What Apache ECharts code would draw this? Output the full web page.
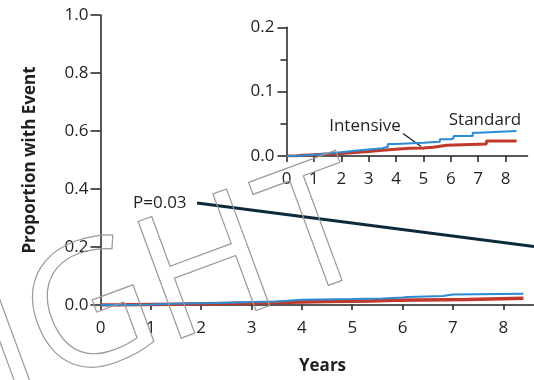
<!DOCTYPE html>
<html>
<head>
<meta charset="utf-8">
<script src="https://cdn.jsdelivr.net/npm/echarts@6/dist/echarts.min.js"></script>
<style>
  html, body { margin: 0; padding: 0; background: #fff; }
  #chart { width: 534px; height: 380px; }
</style>
</head>
<body>
<div id="chart"></div>
<script>
// Cumulative proportion with event, by treatment group (step curves)
const standardYears = [0, 0.3, 0.7, 1.0, 1.5, 2.0, 2.5, 3.0, 3.5, 3.7, 4.0, 5.0, 5.6, 6.0, 6.1, 6.8, 7.0, 8.4];
const standardRisk  = [0, 0.001, 0.002, 0.004, 0.006, 0.008, 0.010, 0.012, 0.0145, 0.0185, 0.0205, 0.0222, 0.026, 0.0275, 0.031, 0.036, 0.039, 0.039];

const intensiveYears = [0, 0.3, 0.6, 1.0, 1.5, 2.0, 2.5, 3.0, 3.5, 4.0, 4.5, 5.0, 5.35, 5.85, 7.3, 8.4];
const intensiveRisk  = [0, 0.001, 0.002, 0.003, 0.004, 0.0055, 0.007, 0.009, 0.0105, 0.012, 0.0125, 0.0135, 0.0166, 0.0187, 0.0233, 0.0233];

const yearTicks = [0, 1, 2, 3, 4, 5, 6, 7, 8];
const pValueLabel = 'P=0.03';

const INK = '#231f20';
const BLUE = '#2b8cd3';
const RED = '#c1392b';
const FONT = '"Open Sans", "Noto Sans", sans-serif';

const pairs = (xs, ys) => xs.map((x, i) => [x, ys[i]]);

function xAxisCfg(grid, max, tickLen, extra) {
  return Object.assign({
    gridIndex: grid, type: 'value', min: 0, max: max, interval: 1,
    axisLine: { onZero: false, lineStyle: { color: INK, width: 1.5 } },
    axisTick: { length: tickLen, lineStyle: { color: INK, width: 1.5 }, customValues: yearTicks },
    axisLabel: { customValues: yearTicks, color: INK, fontSize: 17, fontFamily: FONT, margin: 15 },
    splitLine: { show: false }
  }, extra || {});
}

// outlined watermark lettering, one glyph per element along a tilted baseline
const stampAngle = 0.354;
const stampGlyphs = [
  { ch: 'I', x: 9.7, y: 346.9 },
  { ch: 'G', x: 91.2, y: 316.9 },
  { ch: 'H', x: 208.2, y: 275.3 },
  { ch: 'T', x: 318, y: 236.3 }
];
const stamp = stampGlyphs.map(g => ({
  type: 'text', z: 100, silent: true, x: g.x, y: g.y, rotation: stampAngle,
  style: { text: g.ch, font: '174px "Open Sans"', align: 'center', verticalAlign: 'middle',
           fill: 'none', stroke: '#9a9a9a', lineWidth: 1.2 }
}));

const chart = echarts.init(document.getElementById('chart'), null, { renderer: 'canvas' });

chart.setOption({
  animation: false,
  backgroundColor: '#fff',
  grid: [
    { left: 100.5, top: 15, width: 433, height: 293.3 },
    { left: 286.5, top: 27.3, width: 241, height: 128.7 }
  ],
  xAxis: [
    xAxisCfg(0, 8.6, 5, {
      name: 'Years', nameLocation: 'middle', nameGap: 53,
      nameTextStyle: { color: INK, fontSize: 17, fontWeight: 'bold', fontFamily: FONT, padding: [0, 0, 0, 11] }
    }),
    xAxisCfg(1, 8.8, 6)
  ],
  yAxis: [
    {
      gridIndex: 0, type: 'value', min: 0, max: 1, interval: 0.2,
      name: 'Proportion with Event', nameLocation: 'middle', nameGap: 62,
      nameTextStyle: { color: INK, fontSize: 17, fontWeight: 'bold', fontFamily: FONT },
      axisLine: { show: true, lineStyle: { color: INK, width: 1.5 } },
      axisTick: { show: true, length: 10, lineStyle: { color: INK, width: 1.5 } },
      axisLabel: { color: INK, fontSize: 17, fontFamily: FONT, margin: 12, formatter: v => v.toFixed(1) },
      splitLine: { show: false }
    },
    {
      gridIndex: 1, type: 'value', min: 0, max: 0.2, interval: 0.1,
      axisLine: { show: true, lineStyle: { color: INK, width: 1.5 } },
      axisTick: { show: true, length: 9, lineStyle: { color: INK, width: 1.5 } },
      minorTick: { show: true, splitNumber: 2, length: 6, lineStyle: { color: INK, width: 1.5 } },
      axisLabel: { color: INK, fontSize: 17, fontFamily: FONT, margin: 12, formatter: v => v.toFixed(1) },
      splitLine: { show: false }
    }
  ],
  series: [
    { name: 'Intensive', type: 'line', step: 'end', xAxisIndex: 0, yAxisIndex: 0, showSymbol: false,
      data: pairs(intensiveYears, intensiveRisk), lineStyle: { color: RED, width: 3.5 }, z: 3 },
    { name: 'Standard', type: 'line', step: 'end', xAxisIndex: 0, yAxisIndex: 0, showSymbol: false,
      data: pairs(standardYears, standardRisk), lineStyle: { color: BLUE, width: 2 }, z: 4 },
    { name: 'Intensive', type: 'line', step: 'end', xAxisIndex: 1, yAxisIndex: 1, showSymbol: false,
      data: pairs(intensiveYears, intensiveRisk), lineStyle: { color: RED, width: 3 }, z: 3 },
    { name: 'Standard', type: 'line', step: 'end', xAxisIndex: 1, yAxisIndex: 1, showSymbol: false,
      data: pairs(standardYears, standardRisk), lineStyle: { color: BLUE, width: 2 }, z: 4 }
  ],
  graphic: stamp.concat([
    // P value annotation and its pointer
    { type: 'text', x: 133, y: 203, style: { text: pValueLabel, font: '17px "Open Sans"', fill: INK, verticalAlign: 'middle' } },
    { type: 'line', shape: { x1: 197, y1: 203, x2: 534, y2: 246.5 }, style: { stroke: '#0d2a3c', lineWidth: 3 } },
    // inset curve labels
    { type: 'text', x: 365, y: 126.5, style: { text: 'Intensive', font: '17px "Open Sans"', fill: INK, align: 'center', verticalAlign: 'middle' } },
    { type: 'line', shape: { x1: 403, y1: 133.5, x2: 421, y2: 146.5 }, style: { stroke: INK, lineWidth: 1.3 } },
    { type: 'text', x: 485, y: 120, style: { text: 'Standard', font: '17px "Open Sans"', fill: INK, align: 'center', verticalAlign: 'middle' } }
  ])
});
</script>
</body>
</html>
